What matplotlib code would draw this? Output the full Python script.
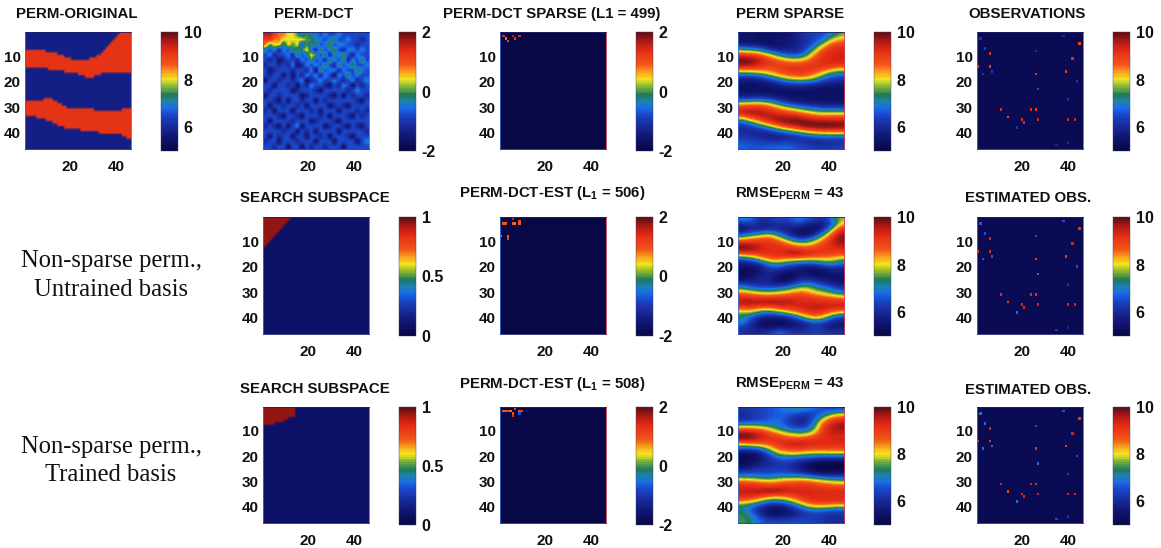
import numpy as np
import matplotlib
matplotlib.use("Agg")
import matplotlib.pyplot as plt
from matplotlib.colors import LinearSegmentedColormap

plt.rcParams['font.family'] = ['Liberation Sans', 'DejaVu Sans']
plt.rcParams['font.weight'] = 'bold'
plt.rcParams['mathtext.fontset'] = 'custom'
plt.rcParams['mathtext.bf'] = 'Liberation Sans:bold'
plt.rcParams['mathtext.rm'] = 'Liberation Sans:bold'

W, H = 1161, 548
N = 46

# ---------- data ----------
B1_TOP = [7,7,7,7,7,7,7,7,7,8,8,8,8,8,9,9,9,10,10,10,11,11,11,11,11,11,11,11,10,10,10,9,9,8,7,6,5,4,3,2,1,0,0,0,0,0]
B1_BOT = [14,14,14,14,14,14,14,14,14,14,15,15,15,15,15,15,15,16,16,16,16,16,16,17,17,17,18,18,18,18,17,17,17,16,16,16,16,16,16,16,16,16,16,16,16,16]
B2_TOP = [27,27,27,27,27,27,27,27,26,26,26,26,27,27,28,28,29,29,30,30,30,30,30,30,30,30,30,30,30,30,31,31,31,31,31,31,31,31,31,31,31,31,30,30,30,30]
B2_BOT = [33,33,33,33,33,34,34,34,34,35,35,35,36,36,37,37,37,38,38,38,38,38,38,38,39,39,39,39,39,39,39,39,40,40,40,40,40,40,40,40,40,40,41,41,42,42]
BAND_VALUE = 9.1
BACK_VALUE = 5.8

PERM_SPARSE = [
 [5.5,5.5,5.4,5.4,5.5,5.5,5.8,6.2,6.4,6.5,7.0,7.6],
 [5.5,5.5,5.4,5.4,5.5,5.6,5.8,6.1,6.4,6.7,7.8,8.3],
 [5.7,5.6,5.5,5.4,5.5,5.6,5.8,6.1,6.6,7.7,8.8,9.0],
 [7.3,7.1,6.8,6.0,5.7,5.8,5.9,6.3,7.4,8.7,9.2,9.3],
 [8.9,8.8,8.5,7.9,7.0,6.4,6.3,6.8,8.3,9.1,9.3,9.4],
 [9.9,9.8,9.4,8.9,8.4,7.9,7.7,8.0,8.9,9.2,9.3,9.4],
 [9.9,9.8,9.4,9.1,9.0,8.9,8.8,8.9,9.1,9.2,9.3,9.3],
 [8.9,8.9,8.8,8.7,8.9,9.2,9.2,9.2,9.1,9.0,8.6,8.2],
 [7.3,7.4,7.7,8.1,8.6,8.9,9.0,9.0,8.7,8.0,7.2,7.0],
 [5.9,5.9,6.1,6.6,7.3,7.9,8.2,8.2,7.8,7.0,6.4,6.3],
 [5.5,5.5,5.5,5.7,6.0,6.4,6.6,6.6,6.4,6.0,5.8,5.7],
 [5.4,5.4,5.4,5.4,5.5,5.6,5.6,5.6,5.5,5.4,5.4,5.4],
 [5.5,5.5,5.5,5.5,5.4,5.4,5.4,5.4,5.4,5.4,5.4,5.4],
 [6.0,6.1,6.2,6.0,5.7,5.5,5.4,5.4,5.4,5.4,5.4,5.4],
 [7.9,8.0,8.1,7.7,7.0,6.2,5.9,5.7,5.6,5.6,5.6,5.6],
 [9.1,9.2,9.2,8.9,8.4,7.9,7.4,7.0,6.6,6.4,6.3,6.3],
 [9.6,9.7,9.6,9.4,9.1,8.9,8.7,8.3,8.0,7.7,7.8,7.8],
 [8.2,9.0,9.4,9.6,9.7,9.7,9.6,9.3,9.0,8.9,8.9,8.9],
 [6.7,7.4,8.3,9.0,9.6,9.9,10.0,10.0,9.9,9.8,9.8,9.7],
 [6.0,6.2,6.7,7.4,8.1,8.8,9.2,9.7,9.9,10.0,10.0,9.9],
 [6.1,6.0,5.9,6.1,6.5,7.0,7.4,7.9,8.3,8.4,8.5,8.5],
 [6.2,6.1,6.0,5.8,5.7,5.8,6.0,6.3,6.6,6.8,6.8,6.7],
 [6.6,6.5,6.4,6.3,6.3,6.4,6.2,6.1,5.9,5.9,6.0,6.1],
 [6.7,6.6,6.6,6.7,6.7,6.8,6.6,6.5,6.3,6.2,6.3,6.4],
]

RMSE_UNTRAINED = [
 [7.0,6.9,6.0,6.2,6.6,6.3,7.0,6.8,6.4,6.1,6.9,7.8],
 [6.0,6.3,5.8,5.8,6.1,6.0,6.4,6.0,5.6,5.6,6.4,8.2],
 [5.5,5.8,5.9,6.0,6.0,5.8,5.5,5.4,5.4,5.8,7.5,9.3],
 [6.4,7.0,7.4,7.9,7.0,6.2,5.5,5.4,5.7,7.0,8.8,9.7],
 [8.2,8.6,8.8,8.9,8.4,7.4,6.5,6.3,7.2,8.3,9.3,9.9],
 [9.6,9.5,9.3,9.2,9.1,8.7,8.1,7.9,8.3,8.9,9.3,9.7],
 [10.0,9.8,9.4,9.2,9.2,9.2,9.1,8.9,9.0,9.1,9.2,9.3],
 [8.9,9.0,9.2,9.2,9.3,9.5,9.8,9.5,9.2,9.1,9.0,8.9],
 [6.8,7.2,8.1,8.7,8.8,8.5,8.5,8.3,8.3,8.3,8.2,7.8],
 [5.7,5.8,6.3,7.3,7.5,7.1,6.8,6.6,6.6,7.0,7.4,6.8],
 [5.3,5.4,5.6,6.3,6.4,6.0,5.7,5.5,5.4,5.7,6.1,5.9],
 [5.2,5.3,5.6,6.0,5.7,5.3,5.5,5.6,5.2,5.3,5.6,5.6],
 [5.4,5.5,6.0,6.0,5.3,5.1,5.6,5.9,5.7,5.5,5.5,5.4],
 [6.1,5.9,5.9,5.9,5.6,5.6,6.3,6.9,6.6,6.1,5.8,5.6],
 [7.3,6.8,6.5,6.5,6.6,7.1,7.5,7.9,7.4,7.1,6.6,6.2],
 [8.5,8.2,7.9,7.8,8.0,8.2,8.6,8.6,8.1,7.8,7.4,7.0],
 [9.3,9.2,9.1,9.1,9.1,9.2,9.2,9.1,9.0,8.8,8.6,8.3],
 [9.6,9.7,9.7,9.7,9.7,9.6,9.4,9.3,9.3,9.3,9.3,9.3],
 [9.0,9.1,8.8,8.8,9.1,9.2,9.3,9.4,9.6,9.5,9.4,9.4],
 [7.8,7.9,7.2,7.0,7.5,8.0,8.6,9.0,9.3,9.1,8.7,8.2],
 [7.2,6.7,6.0,5.8,5.8,6.0,6.8,7.8,8.5,8.2,7.0,6.3],
 [7.2,6.2,5.4,5.3,5.3,5.4,5.7,6.2,6.8,6.6,5.9,5.7],
 [6.3,6.0,5.5,5.3,5.4,5.5,5.6,5.8,6.1,6.0,5.6,5.6],
 [6.2,6.0,6.0,6.2,6.9,6.5,6.2,6.2,6.4,6.3,6.1,6.1],
]

RMSE_TRAINED = [
 [6.2,6.3,6.4,6.6,6.7,7.0,7.2,7.1,6.7,6.5,6.4,6.5],
 [6.0,6.2,6.4,6.6,6.7,6.7,6.4,6.2,6.3,6.8,7.6,8.0],
 [6.0,6.2,6.4,6.6,6.8,6.5,6.0,5.9,6.5,7.9,8.9,9.1],
 [7.0,7.1,7.0,6.9,6.9,6.5,6.0,6.0,6.9,8.8,9.4,9.7],
 [8.7,8.7,8.5,8.0,7.3,6.9,6.6,6.6,7.4,9.1,9.5,9.7],
 [9.9,9.8,9.4,9.0,8.5,7.9,7.6,7.6,8.2,9.2,9.4,9.4],
 [9.9,9.8,9.4,9.2,9.1,9.0,8.8,8.9,9.1,9.2,9.3,9.3],
 [8.5,8.7,8.8,8.9,9.2,9.4,9.6,9.5,9.3,9.3,9.3,9.3],
 [6.7,6.8,7.1,7.9,8.8,9.0,9.1,9.1,9.0,9.0,9.0,9.0],
 [5.4,5.4,5.8,6.8,7.9,8.2,8.3,8.0,7.9,7.9,8.0,8.0],
 [5.2,5.2,5.5,6.1,6.8,6.9,6.8,6.6,6.5,6.3,6.3,6.3],
 [5.2,5.3,5.8,6.0,6.2,6.3,6.0,5.6,5.3,5.1,5.1,5.1],
 [5.6,5.8,6.1,6.2,6.2,6.2,5.8,5.4,5.1,5.0,5.0,5.0],
 [6.3,6.4,6.4,6.4,6.5,6.4,6.2,5.9,5.4,5.2,5.3,5.4],
 [7.4,7.3,7.1,7.0,7.3,7.4,7.5,7.4,7.1,6.8,6.6,6.5],
 [8.8,8.7,8.5,8.3,8.5,8.7,8.7,8.8,8.6,8.3,8.1,7.9],
 [9.3,9.3,9.2,9.2,9.2,9.2,9.2,9.2,9.1,9.0,8.9,8.9],
 [9.5,9.5,9.7,9.8,9.8,9.5,9.4,9.4,9.3,9.3,9.3,9.3],
 [9.3,9.2,9.0,8.6,8.4,8.6,9.0,9.3,9.3,9.3,9.3,9.3],
 [8.5,8.2,7.6,7.0,6.9,7.4,8.1,8.8,9.1,9.2,9.2,9.2],
 [7.2,6.9,6.3,5.7,5.6,6.0,6.7,7.7,8.2,8.3,8.0,7.9],
 [7.3,6.6,5.8,5.3,5.3,5.5,5.9,6.4,6.7,6.6,6.4,6.4],
 [7.5,7.2,6.2,5.6,5.5,5.7,5.9,6.2,6.3,6.2,6.1,6.1],
 [7.5,7.3,6.7,6.4,6.4,6.5,6.5,6.5,6.4,6.2,6.0,6.0],
]

# PERM-DCT, estimated in colour steps of 0.4 from -2
PERM_DCT_LEVELS = [
 [9,9,8,7,7,6,6,5,4,5,4,4,3,4,3,3,4,3,3,3,3,3,3],
 [8,8,7,7,6,6,6,6,6,5,5,4,4,3,4,5,3,3,4,3,3,2,3],
 [7,5,6,6,4,6,5,6,3,5,4,5,3,4,5,3,4,4,3,3,2,3,3],
 [4,3,4,2,4,3,5,4,5,6,4,2,5,3,4,5,3,2,4,4,3,4,3],
 [3,4,2,3,3,4,2,5,3,4,6,5,3,5,2,4,4,5,3,2,4,3,3],
 [3,2,3,1,2,3,3,2,4,3,5,3,4,2,5,4,3,5,2,4,3,5,3],
 [2,3,3,2,3,2,4,1,2,4,3,4,3,5,3,2,5,3,4,5,3,3,4],
 [3,1,2,3,3,3,2,3,3,2,4,1,5,3,4,4,2,4,3,3,5,4,3],
 [3,2,3,3,1,3,1,3,2,4,3,4,2,4,3,1,4,3,5,3,4,3,3],
 [1,3,3,2,3,3,2,3,4,1,2,3,4,3,3,4,3,2,3,4,2,3,4],
 [3,3,1,3,3,2,3,1,3,2,4,3,3,2,1,3,2,4,3,1,3,2,3],
 [3,2,3,3,3,3,1,2,3,3,3,2,1,3,3,3,3,3,2,3,4,3,3],
 [1,3,3,2,3,3,3,3,1,2,3,3,3,3,2,1,3,1,3,2,3,3,2],
 [3,3,2,1,3,1,3,3,2,3,3,1,3,2,3,3,3,3,3,3,2,1,3],
 [3,1,3,3,2,3,3,2,3,1,3,3,3,3,1,2,3,2,1,3,3,3,3],
 [2,3,1,3,3,3,1,3,3,3,2,3,1,3,3,3,1,3,3,3,2,3,2],
 [3,3,3,2,1,3,3,2,1,3,3,3,2,3,1,3,3,3,2,1,3,2,3],
 [3,1,3,3,3,3,2,3,3,3,1,2,3,3,3,2,1,3,3,3,3,3,3],
 [2,3,2,1,3,1,3,4,1,3,3,3,3,1,2,3,3,2,1,3,2,1,3],
 [3,3,3,3,2,3,3,1,3,2,3,1,3,3,3,3,1,3,3,3,3,3,2],
 [3,1,3,2,3,3,1,3,3,1,3,3,2,3,1,3,3,3,2,1,3,3,3],
 [2,3,3,1,3,3,3,2,3,3,3,1,3,3,3,1,3,3,3,3,1,3,4],
 [3,3,2,3,3,1,3,3,1,3,2,3,3,2,3,3,3,1,3,3,3,3,3],
]
DCT_LOW = -2.0
DCT_STEP = 0.4

DCT_BACK = -1.95
# (column, row, value)
DCT_SPARSE_X = [2, 3, 4, 6, 7, 9]
DCT_SPARSE_Y = [2, 3, 4, 2, 3, 2]
DCT_SPARSE_V = [1.4, 0.8, 1.0, 1.5, 1.2, 1.4]
DCT_EST_U_X = [2, 3, 6, 6, 7, 9, 9, 1, 4, 4]
DCT_EST_U_Y = [3, 3, 3, 1, 3, 2, 3, 8, 8, 9]
DCT_EST_U_V = [0.9, 0.9, 0.9, 1.5, 0.8, 1.0, 0.9, 0.0, 0.9, 1.2]
DCT_EST_T_X = [2, 3, 4, 5, 6, 6, 7, 9, 9, 10]
DCT_EST_T_Y = [2, 2, 2, 2, 3, 4, 1, 2, 3, 2]
DCT_EST_T_V = [0.9, 0.9, 1.2, 0.8, 0.9, 1.4, 1.2, 1.0, -0.7, 1.2]

SEARCH_BACK = 0.08
SEARCH_TOP = 0.95
SEARCH_U_WIDTH = [12, 11, 10, 9, 8, 7, 6, 5, 4, 3, 2, 1]
SEARCH_T_WIDTH = [14, 14, 14, 14, 11, 9, 5]

OBS_BACK = 5.2
OBS_X = [6, 1, 6, 42, 39, 26, 45, 11, 24, 26, 14, 20, 21, 27, 40, 43, 3, 7, 4, 26, 27, 44, 40, 18, 38, 2, 35, 40]
OBS_Y = [9, 14, 14, 11, 16, 17, 5, 31, 31, 31, 34, 35, 36, 35, 35, 35, 17, 16, 7, 8, 23, 20, 27, 38, 2, 3, 45, 44]
OBS_V = [9.2, 9.0, 9.0, 9.2, 9.0, 9.0, 8.9, 9.2, 9.2, 9.0, 8.9, 9.2, 9.2, 9.3, 9.3, 9.3,
         6.4, 6.4, 6.3, 6.2, 6.6, 6.2, 6.1, 6.3, 6.1, 6.2, 6.0, 6.0]
EST_U_V = [9.3, 9.0, 9.1, 9.3, 9.0, 9.0, 9.0, 9.2, 9.2, 9.2, 8.9, 9.3, 9.3, 9.3, 9.3, 9.3,
           6.7, 6.7, 6.6, 6.6, 6.8, 6.6, 6.2, 6.8, 6.6, 6.7, 6.4, 6.0]
EST_T_V = [9.3, 9.1, 9.1, 9.3, 9.0, 9.1, 9.0, 9.3, 9.3, 9.2, 8.9, 9.3, 9.3, 9.3, 9.3, 9.3,
           6.8, 7.0, 6.8, 6.6, 6.8, 6.6, 6.4, 6.9, 6.6, 6.8, 6.5, 6.1]

# ---------- colour map sampled from the colour bars ----------
CM_POS = [0.0, 0.10, 0.20, 0.30, 0.36, 0.42, 0.47, 0.53, 0.60, 0.66, 0.72, 0.86, 0.93, 1.0]
CM_RGB = [(8,8,70),(15,20,110),(25,40,150),(25,70,200),(25,110,235),(30,130,170),(30,120,90),
          (110,170,60),(240,230,30),(250,170,30),(245,90,25),(225,40,20),(170,25,20),(100,15,20)]
cmap = LinearSegmentedColormap.from_list('scan_jet', [(p, tuple(c/255 for c in rgb)) for p, rgb in zip(CM_POS, CM_RGB)], N=64)


def points_grid(xs, ys, vs, back):
    g = np.full((N, N), float(back))
    for x, y, v in zip(xs, ys, vs):
        g[y-1, x-1] = v
    return g


def width_grid(widths, back, top):
    g = np.full((N, N), float(back))
    for r, w in enumerate(widths):
        g[r, :w] = top
    return g


def band_grid():
    g = np.full((N, N), BACK_VALUE)
    for c in range(N):
        g[B1_TOP[c]:B1_BOT[c], c] = BAND_VALUE
        g[B2_TOP[c]:B2_BOT[c], c] = BAND_VALUE
    return g


fig = plt.figure(figsize=(W/100, H/100), dpi=100, facecolor='white')


def box(x0, y0, x1, y1):
    return [x0/W, 1-y1/H, (x1-x0)/W, (y1-y0)/H]


def panel(x0, y0, y1, grid, vmin, vmax, ticks, ticklabels, interp='bilinear'):
    ax = fig.add_axes(box(x0, y0, x0+106, y1))
    im = ax.imshow(np.asarray(grid, float), cmap=cmap, vmin=vmin, vmax=vmax, aspect='auto',
                   extent=(0.5, N+0.5, N+0.5, 0.5), interpolation=interp)
    ax.set_xticks([20, 40])
    ax.set_yticks([10, 20, 30, 40])
    ax.tick_params(length=0, labelsize=11, labelcolor='#111111')
    ax.tick_params(axis='x', pad=8)
    ax.tick_params(axis='y', pad=3)
    for s, c in zip(['left', 'right', 'top', 'bottom'], ['#3a70d0', '#d04050', '#20206a', '#20206a']):
        ax.spines[s].set_color(c)
        ax.spines[s].set_linewidth(0.6)
    cax = fig.add_axes(box(x0+136, y0, x0+153, y1+2))
    cb = fig.colorbar(im, cax=cax, ticks=ticks)
    cb.ax.set_yticklabels(ticklabels)
    cb.ax.tick_params(length=0, labelsize=11.5, pad=4, labelcolor='#111111')
    cb.outline.set_linewidth(0.3)
    cb.outline.set_edgecolor('#404060')
    return ax


def title(x, y, s):
    fig.text(x/W, 1-y/H, s, ha='center', va='center', fontsize=10.85, fontweight='bold', color='#111111')


PERM_T = [6, 8, 10]
PERM_L = ['6', '8', '10']
DCT_T = [-2, 0, 2]
DCT_L = ['-2', '0', '2']
SUB_T = [0, 0.5, 1]
SUB_L = ['0', '0.5', '1']

COLS = [25, 263, 500, 738, 977]
R1 = (32, 149)
R2 = (217, 334)
R3 = (407, 523)

dct_grid = DCT_LOW + np.asarray(PERM_DCT_LEVELS, float) * DCT_STEP

# Row 1
panel(COLS[0], *R1, band_grid(), 5, 10, PERM_T, PERM_L)
panel(COLS[1], *R1, dct_grid, -2, 2, DCT_T, DCT_L)
panel(COLS[2], *R1, points_grid(DCT_SPARSE_X, DCT_SPARSE_Y, DCT_SPARSE_V, DCT_BACK), -2, 2, DCT_T, DCT_L, 'nearest')
panel(COLS[3], *R1, PERM_SPARSE, 5, 10, PERM_T, PERM_L, 'bicubic')
panel(COLS[4], *R1, points_grid(OBS_X, OBS_Y, OBS_V, OBS_BACK), 5, 10, PERM_T, PERM_L, 'nearest')
# Row 2
panel(COLS[1], *R2, width_grid(SEARCH_U_WIDTH, SEARCH_BACK, SEARCH_TOP), 0, 1, SUB_T, SUB_L)
panel(COLS[2], *R2, points_grid(DCT_EST_U_X, DCT_EST_U_Y, DCT_EST_U_V, DCT_BACK), -2, 2, DCT_T, DCT_L, 'nearest')
panel(COLS[3], *R2, RMSE_UNTRAINED, 5, 10, PERM_T, PERM_L, 'bicubic')
panel(COLS[4], *R2, points_grid(OBS_X, OBS_Y, EST_U_V, OBS_BACK), 5, 10, PERM_T, PERM_L, 'nearest')
# Row 3
panel(COLS[1], *R3, width_grid(SEARCH_T_WIDTH, SEARCH_BACK, SEARCH_TOP), 0, 1, SUB_T, SUB_L)
panel(COLS[2], *R3, points_grid(DCT_EST_T_X, DCT_EST_T_Y, DCT_EST_T_V, DCT_BACK), -2, 2, DCT_T, DCT_L, 'nearest')
panel(COLS[3], *R3, RMSE_TRAINED, 5, 10, PERM_T, PERM_L, 'bicubic')
panel(COLS[4], *R3, points_grid(OBS_X, OBS_Y, EST_T_V, OBS_BACK), 5, 10, PERM_T, PERM_L, 'nearest')

title(77, 14, 'PERM-ORIGINAL')
title(314, 14, 'PERM-DCT')
title(552, 14, 'PERM-DCT SPARSE (L1 = 499)')
title(790, 14, 'PERM SPARSE')
title(1027, 14, 'OBSERVATIONS')

title(315, 198, 'SEARCH SUBSPACE')
title(552, 193, r'PERM-DCT-EST (L$_{\mathbf{1}}$ = 506)')
title(790, 194, r'RMSE$_{\mathbf{PERM}}$ = 43')
title(1028, 198, 'ESTIMATED OBS.')

title(315, 389, 'SEARCH SUBSPACE')
title(552, 384, r'PERM-DCT-EST (L$_{\mathbf{1}}$ = 508)')
title(790, 384, r'RMSE$_{\mathbf{PERM}}$ = 43')
title(1028, 390, 'ESTIMATED OBS.')

for y, s in [(261, 'Non-sparse perm.,'), (290, 'Untrained basis'), (447, 'Non-sparse perm.,'), (475, 'Trained basis')]:
    fig.text(111/W, 1-y/H, s, ha='center', va='center', fontsize=17.7,
             family=['Liberation Serif', 'DejaVu Serif'], fontweight='normal', color='#111111')

fig.savefig('out.png', dpi=100, facecolor='white')
